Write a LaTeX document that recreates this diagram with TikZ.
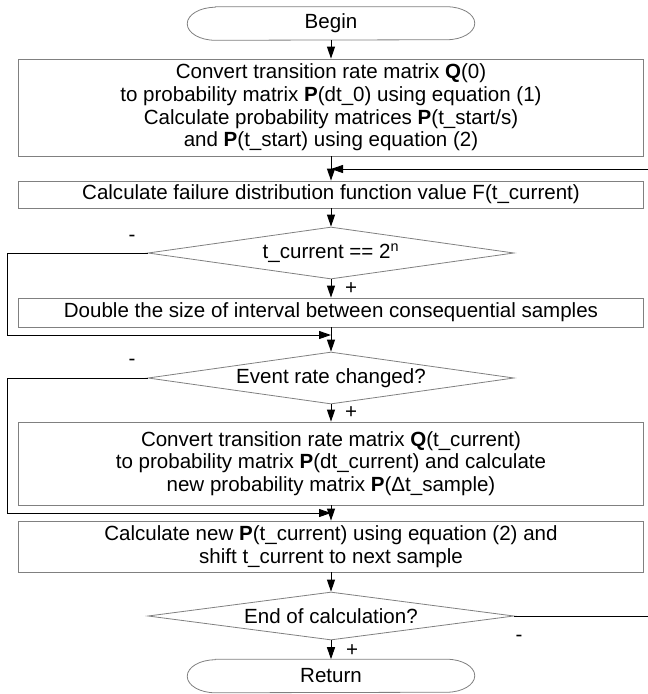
\documentclass[tikz,border=0pt]{standalone}
\usepackage{fontspec}
\setmainfont{Liberation Sans}
\usetikzlibrary{shapes.geometric,arrows.meta}

\definecolor{boxgray}{RGB}{128,128,128}

\tikzset{
  every node/.style={font=\fontsize{15.4}{17}\selectfont},
  block/.style={draw=boxgray, line width=0.6pt, align=center, inner sep=0pt,
    minimum width=468.75pt},
  test/.style={draw=boxgray, line width=0.6pt, shape=diamond, aspect=7, inner sep=0pt,
    minimum width=274.5pt, minimum height=39pt},
  terminal/.style={inner sep=0pt, minimum width=215.25pt, minimum height=24.75pt},
  arr/.style={-{Triangle[length=9pt,width=6pt]}, line width=0.75pt},
  sign/.style={inner sep=0pt}
}

\newcommand{\termborder}[1]{%
  \draw[boxgray, line width=0.6pt] ([xshift=21pt]#1.north west) -- ([xshift=-21pt]#1.north east)
    arc[start angle=90, end angle=-90, x radius=21pt, y radius=12.375pt]
    -- ([xshift=21pt]#1.south west)
    arc[start angle=270, end angle=90, x radius=21pt, y radius=12.375pt] -- cycle;}

\begin{document}
\begin{tikzpicture}[x=0.75pt, y=-0.75pt]
\useasboundingbox (0,0) rectangle (648,694);

% main column
\node[terminal] (begin) at (331,23.5) {Begin};
\node[block, minimum height=72.75pt] (init) at (331,107.5)
  {Convert transition rate matrix \textbf{Q}(0)\\
   to probability matrix \textbf{P}(dt\_0) using equation (1)\\
   Calculate probability matrices \textbf{P}(t\_start/s)\\
   and \textbf{P}(t\_start) using equation (2)};
\node[block, minimum height=20.25pt] (fail) at (331,194.5)
  {Calculate failure distribution function value F(t\_current)};
\node[test] (pow) at (331,253) {t\_current == 2\textsuperscript{n}};
\node[block, minimum height=21.75pt] (double) at (331,312.5)
  {Double the size of interval between consequential samples};
\node[test] (rate) at (331,378) {Event rate changed?};
\node[block, minimum height=62.25pt] (conv) at (331,463.5)
  {Convert transition rate matrix \textbf{Q}(t\_current)\\
   to probability matrix \textbf{P}(dt\_current) and calculate\\
   new probability matrix \textbf{P}(Δt\_sample)};
\node[block, minimum height=38.25pt] (shift) at (331,546.5)
  {Calculate new \textbf{P}(t\_current) using equation (2) and\\
   shift t\_current to next sample};
\node[test, minimum height=36pt] (stop) at (331,616) {End of calculation?};
\node[terminal] (return) at (331,676) {Return};
\termborder{begin}
\termborder{return}

% join points and loop corners
\coordinate (join1) at (331,169);
\coordinate (join2) at (331,335);
\coordinate (join3) at (331,513);
\coordinate (left1) at (7,335);
\coordinate (left2) at (7,513);
\coordinate (right) at (648,169);

% connectors
\draw[arr] (begin) -- (init);
\draw[arr] (init) -- (fail);
\draw[arr] (fail) -- (pow);
\draw[arr] (pow) -- (double);
\draw[arr] (double) -- (rate);
\draw[arr] (rate) -- (conv);
\draw[arr] (conv) -- (shift);
\draw[arr] (shift) -- (stop);
\draw[arr] (stop) -- (return);
\draw[arr] (pow.west) -- (pow.west -| left1) -- (left1) -- (join2);
\draw[arr] (rate.west) -- (rate.west -| left2) -- (left2) -- (join3);
\draw[arr] (stop.east) -- (stop.east -| right) -- (right) -- (join1);

% branch signs
\node[sign] at (132,238) {-};
\node[sign] at (351,289) {+};
\node[sign] at (132,362) {-};
\node[sign] at (351,413) {+};
\node[sign] at (519,638) {-};
\node[sign] at (352,651) {+};
\end{tikzpicture}
\end{document}
